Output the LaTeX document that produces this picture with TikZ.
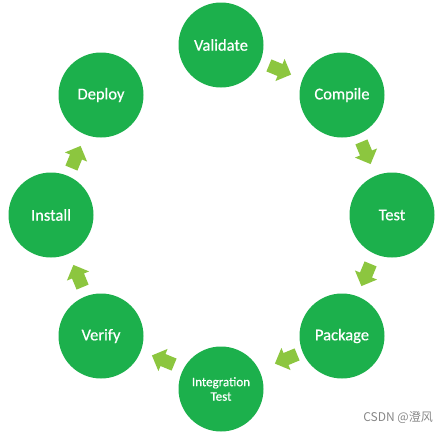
\documentclass[tikz,border=0pt]{standalone}
\usepackage{fontspec}
\setmainfont{Carlito}[FakeBold=0.5]
\newfontfamily\cjk{Noto Sans CJK SC}
\definecolor{stepgreen}{RGB}{28,176,76}
\definecolor{arrowgreen}{RGB}{140,198,63}
\definecolor{markgray}{RGB}{135,135,135}
\begin{document}
\begin{tikzpicture}[x=1pt,y=1pt,
  phase/.style={circle,fill=stepgreen,minimum size=85pt,inner sep=0pt,
    text=white,font=\fontsize{16.5}{18}\selectfont,align=center},
  blockarrow/.pic={\fill[arrowgreen] (-12,-6.5) -- (0,-6.5) -- (0,-12) -- (12,0) -- (0,12) -- (0,6.5) -- (-12,6.5) -- cycle;}]
\useasboundingbox (0,0) rectangle (440,-434);
\node[phase] (validate) at (221,-45) {Validate};
\node[phase] (compile) at (342,-95) {Compile};
\node[phase] (test) at (392,-215) {Test};
\node[phase] (package) at (342,-336) {Package};
\node[phase,font=\fontsize{13}{14.5}\selectfont] (integ) at (221,-389) {Integration\\Test};
\node[phase] (verify) at (101,-336) {Verify};
\node[phase] (install) at (51,-215) {Install};
\node[phase] (deploy) at (101,-95) {Deploy};
\pic[rotate=-22.5] (a1) at (280,-70) {blockarrow};
\pic[rotate=-67.5] (a2) at (366,-153) {blockarrow};
\pic[rotate=-112.5] (a3) at (366,-275) {blockarrow};
\pic[rotate=-157.5] (a4) at (286,-359) {blockarrow};
\pic[rotate=157.5] (a5) at (163,-360) {blockarrow};
\pic[rotate=112.5] (a6) at (78,-276) {blockarrow};
\pic[rotate=67.5] (a7) at (76,-157) {blockarrow};
\node[text=markgray,font=\cjk\fontsize{12}{14}\selectfont,anchor=east,inner sep=0pt] (mark) at (433,-418) {CSDN @澄风};
\end{tikzpicture}
\end{document}
